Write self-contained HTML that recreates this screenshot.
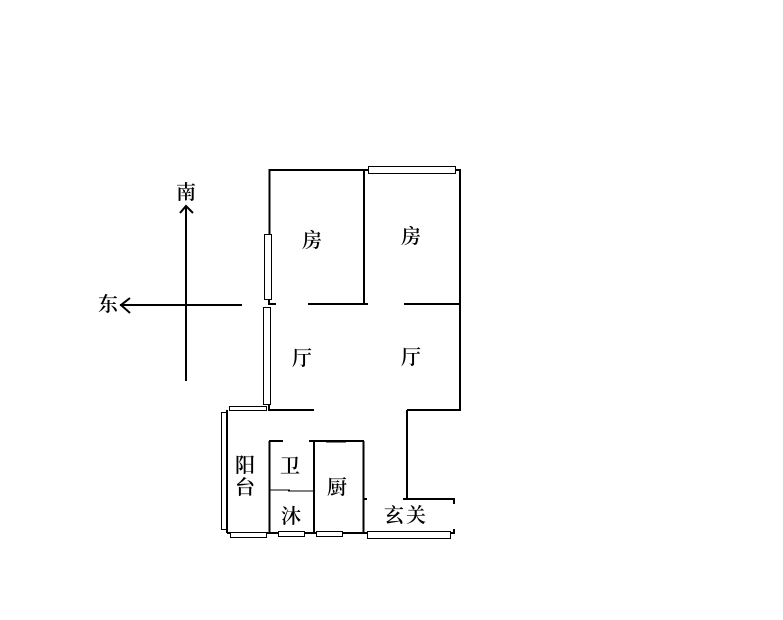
<!DOCTYPE html>
<html>
<head>
<meta charset="utf-8">
<style>
html,body{margin:0;padding:0;background:#fff;width:783px;height:620px;overflow:hidden}
svg{display:block}
text{font-family:"Liberation Serif","Noto Serif CJK SC",serif;font-size:20px;font-weight:600;fill:#000;text-anchor:middle;dominant-baseline:central}
</style>
</head>
<body>
<svg width="783" height="620" viewBox="0 0 783 620" xmlns="http://www.w3.org/2000/svg">
<rect width="783" height="620" fill="#fff"/>
<g stroke="#000" stroke-width="2" fill="none">
<!-- compass -->
<path d="M186 206V381M120 305H242"/>
<path d="M180 213L186 206L193 213M130 298L121 305L130 313"/>
<!-- upper walls -->
<path d="M269.500 234V170H368M455 170H460V410H407M364 170V304M308 304H368M404 304H460"/>
<path d="M269 299V305M269 304H276M269 404V410H314"/>
<!-- lower walls -->
<path d="M407 410V499M403 499H454M454 498V504M454 529V534M227 410V533M227 533H454"/>
<path d="M269.500 441V533M269 441H283M309 441H364M314 441V533M363.500 441V533M364 499H367"/>
</g>
<g stroke="#000" stroke-width="1" fill="none">
<path d="M269 490H290M288 491H313M326 442H346"/>
</g>
<!-- windows -->
<g stroke="#000" stroke-width="1" fill="#fff">
<rect x="368.500" y="166.500" width="87" height="7"/>
<rect x="264.500" y="234.500" width="7" height="65"/>
<rect x="263.500" y="307.500" width="7" height="97"/>
<rect x="229.500" y="406.500" width="37" height="4"/>
<rect x="221.500" y="412.500" width="5" height="117"/>
<rect x="230.500" y="532.500" width="36" height="5"/>
<rect x="278.500" y="531.500" width="26" height="5"/>
<rect x="316.500" y="531.500" width="26" height="5"/>
<rect x="367.500" y="531.500" width="83" height="7"/>
</g>
<!-- labels -->
<text x="186" y="193">南</text>
<text x="108" y="305">东</text>
<text x="312" y="241">房</text>
<text x="411" y="237">房</text>
<text x="302" y="359">厅</text>
<text x="411" y="358">厅</text>
<text x="245" y="466">阳</text>
<text x="245" y="488">台</text>
<text x="290" y="467">卫</text>
<text x="337" y="488">厨</text>
<text x="291" y="517">沐</text>
<text x="394" y="516">玄</text>
<text x="416" y="516">关</text>
</svg>
</body>
</html>
